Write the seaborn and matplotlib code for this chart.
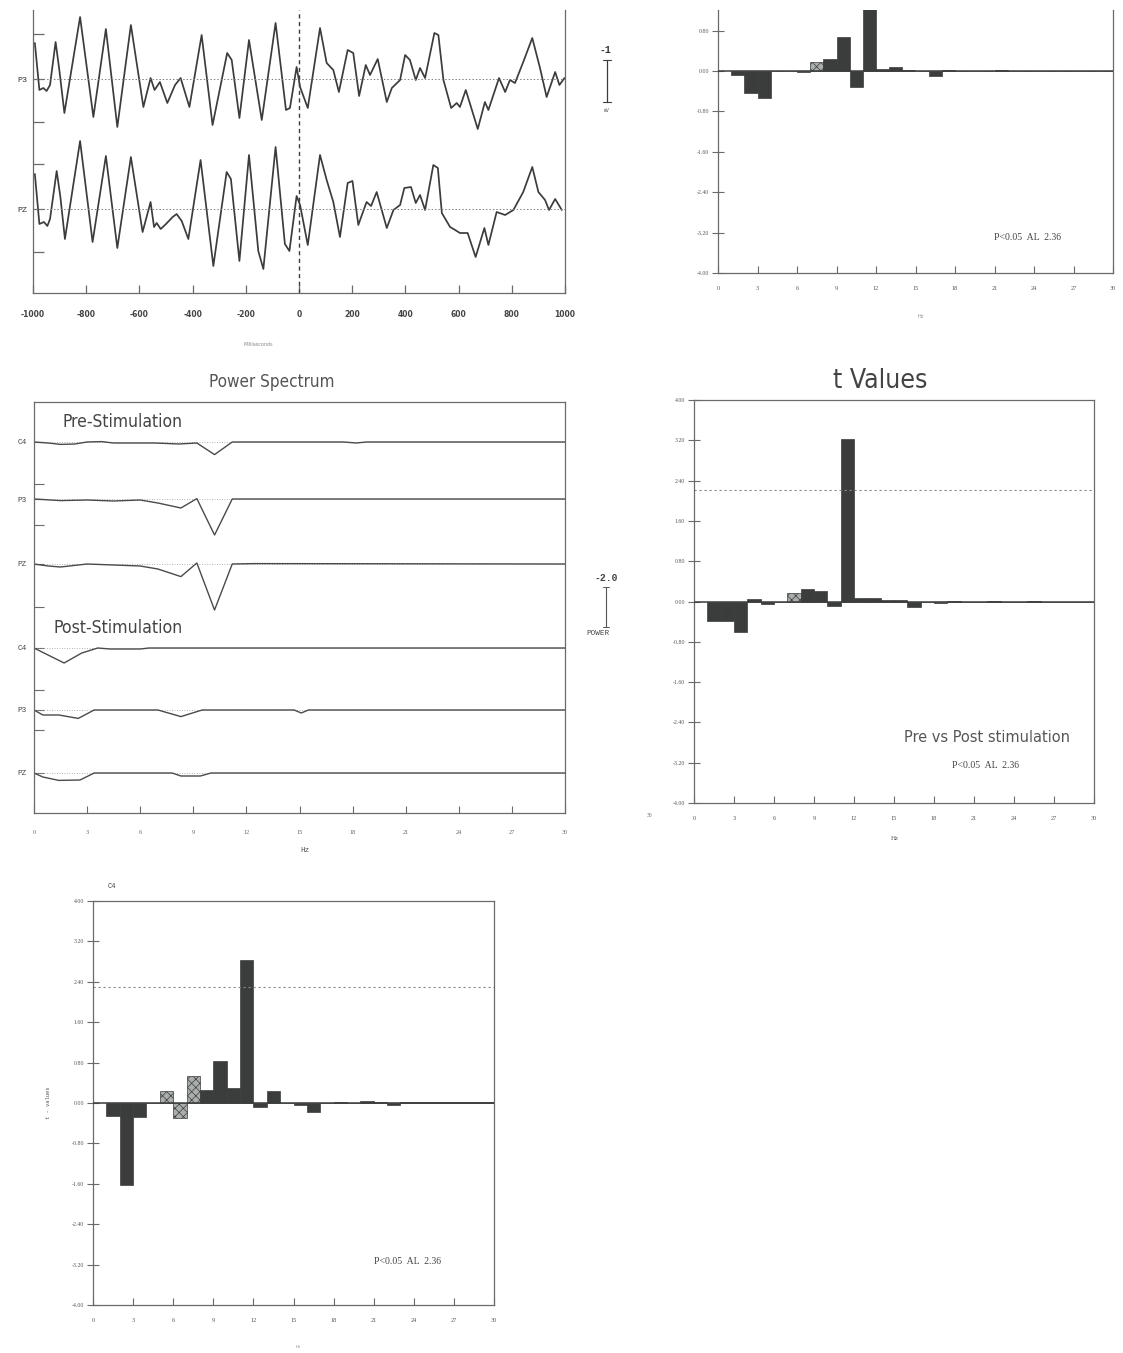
import numpy as np
import pandas as pd
import matplotlib
matplotlib.use('Agg')
import matplotlib.pyplot as plt
from matplotlib import font_manager
from matplotlib.font_manager import FontProperties
import seaborn as sns

# ---------------- data ----------------
# EEG epoch (top left), time in ms, deflection in screen units (scale bar = 43)
p3_ms = [-993, -976, -961, -949, -936, -915, -901, -882, -823, -773, -726, -683, -632, -585, -558,
         -543, -523, -495, -466, -445, -412, -366, -325, -270, -253, -224, -188, -140, -88, -49,
         -34, -9, 4, 33, 79, 104, 129, 150, 183, 204, 226, 251, 267, 296, 330,
         349, 380, 399, 417, 439, 455, 474, 509, 524, 543, 572, 593, 605, 627, 672,
         699, 712, 752, 775, 793, 812, 843, 877, 906, 931, 963, 979, 998]
p3_amp = [36, -11, -9, -12, -6, 37, 9, -34, 62, -38, 50, -48, 54, -28, 1,
          -11, -3, -24, -6, 1, -28, 44, -46, 26, 19, -39, 39, -41, 56, -31,
          -29, 12, -8, -29, 51, 16, 9, -13, 29, 26, -17, 14, 4, 20, -23,
          -9, -1, 24, 19, -1, 11, 1, 46, 44, -1, -29, -24, -28, -11, -50,
          -23, -31, 1, -13, -1, -4, 17, 41, 11, -18, 7, -6, 1]
pz_ms = [-993, -976, -959, -946, -936, -911, -897, -880, -823, -776, -726, -683, -632, -588, -558,
         -545, -535, -520, -500, -475, -460, -441, -416, -370, -322, -272, -256, -224, -188, -153,
         -134, -88, -53, -36, -9, 4, 33, 79, 104, 129, 154, 183, 201, 223, 254,
         271, 292, 330, 355, 380, 396, 421, 439, 455, 474, 505, 522, 537, 568, 587,
         605, 634, 664, 697, 712, 743, 775, 806, 843, 877, 900, 925, 940, 963, 988]
pz_amp = [35, -15, -13, -17, -10, 38, 12, -30, 68, -33, 53, -39, 52, -23, 7,
          -18, -14, -20, -15, -8, -5, -12, -30, 49, -57, 37, 30, -52, 54, -42,
          -60, 62, -35, -42, 13, 4, -36, 54, 29, 7, -28, 26, 28, -16, 7,
          3, 17, -19, -1, 4, 21, 22, 6, 14, -1, 44, 41, -4, -18, -21,
          -24, -24, -48, -19, -36, -3, -6, -1, 17, 42, 17, 9, -1, 10, -1]
eeg_ticks = [-1000, -800, -600, -400, -200, 0, 200, 400, 600, 800, 1000]

# power spectra (middle left), Hz vs power change
pre_c4_hz = [0, 0.8, 1.5, 2.3, 3.0, 3.8, 4.5, 5.3, 6.8, 8.2, 9.2, 10.2, 11.2, 17.5, 18.2, 18.8, 30]
pre_c4_pw = [0, -0.05, -0.12, -0.1, 0, 0.02, -0.05, -0.05, -0.05, -0.1, -0.05, -0.63, 0, 0, -0.05, 0, 0]
pre_p3_hz = [0, 1.5, 3.0, 4.5, 6.0, 7.0, 8.3, 9.2, 10.2, 11.2, 30]
pre_p3_pw = [0, -0.08, -0.05, -0.1, -0.05, -0.2, -0.45, 0.02, -1.8, 0, 0]
pre_pz_hz = [0, 0.8, 1.5, 3.0, 4.5, 6.0, 7.0, 8.3, 9.2, 10.2, 11.2, 12.5, 30]
pre_pz_pw = [0, -0.1, -0.15, 0, -0.05, -0.1, -0.25, -0.63, 0.05, -2.3, 0, 0.02, 0]
post_c4_hz = [0, 1.7, 2.7, 3.6, 4.3, 6.0, 6.5, 30]
post_c4_pw = [0, -0.75, -0.25, 0, -0.05, -0.05, 0, 0]
post_p3_hz = [0, 0.5, 1.4, 2.5, 3.4, 7.0, 8.3, 9.5, 14.7, 15.1, 15.5, 30]
post_p3_pw = [0, -0.25, -0.25, -0.42, 0, 0, -0.33, 0, 0, -0.15, 0, 0]
post_pz_hz = [0, 0.5, 1.4, 2.6, 3.4, 7.8, 8.3, 9.4, 10.0, 30]
post_pz_pw = [0, -0.2, -0.37, -0.35, 0, 0, -0.15, -0.15, 0, 0]
spec_labels = ['C4', 'P3', 'PZ', 'C4', 'P3', 'PZ']

# t values per 1 Hz bin (centres)
hz_bins = [1.5, 2.5, 3.5, 4.5, 5.5, 6.5, 7.5, 8.5, 9.5, 10.5, 11.5, 12.5, 13.5, 14.5, 15.5,
           16.5, 17.5, 18.5, 19.5, 20.5, 21.5, 22.5, 23.5, 24.5, 25.5, 26.5, 27.5, 28.5, 29.5]
t_top = [-0.08, -0.44, -0.53, 0.01, 0.0, -0.02, 0.17, 0.23, 0.67, -0.31, 3.0, 0.05, 0.08, 0.03, 0.01,
         -0.10, 0.03, 0.01, 0.0, 0.0, 0.02, 0.0, 0.0, 0.0, 0.01, 0.0, 0.0, 0.0, 0.0]
t_prepost = [-0.38, -0.38, -0.60, 0.04, -0.05, 0.0, 0.16, 0.24, 0.20, -0.09, 3.23, 0.07, 0.07, 0.02, 0.02,
             -0.10, 0.0, -0.02, 0.01, 0.0, -0.01, 0.01, 0.0, -0.01, 0.01, 0.0, 0.0, 0.0, 0.0]
t_c4 = [-0.25, -1.62, -0.28, 0.0, 0.23, -0.30, 0.53, 0.26, 0.84, 0.30, 2.83, -0.07, 0.23, 0.0, -0.03,
        -0.18, 0.0, 0.02, 0.0, 0.03, 0.01, -0.03, 0.01, 0.01, 0.01, 0.01, 0.01, 0.01, 0.01]
hatched_top = [7.5]
hatched_prepost = [7.5]
hatched_c4 = [5.5, 6.5, 7.5]
crit_prepost = 2.22
crit_c4 = 2.30
t_ticks = [4.0, 3.2, 2.4, 1.6, 0.8, 0.0, -0.8, -1.6, -2.4, -3.2, -4.0]
hz_ticks = [0, 3, 6, 9, 12, 15, 18, 21, 24, 27, 30]

# ---------------- style ----------------
sns.set_theme(style='white')
plt.rcParams['font.family'] = ['DejaVu Sans']
plt.rcParams['hatch.linewidth'] = 0.5
INK = '#3a3d3c'
SPINE = '#6a6a6a'
MONO = 'Liberation Mono'
SERIF = 'Liberation Serif'

# the headings in the scan are set in a condensed sans; use one if installed
cond_file = None
for f in font_manager.fontManager.ttflist:
    if f.stretch in ('condensed', 'semi-condensed') and f.style == 'normal' \
            and f.weight in (400, 'normal', 'regular') \
            and 'Mono' not in f.name and 'Serif' not in f.name:
        cond_file = f.fname
        break
if cond_file:
    HEAD = FontProperties(fname=cond_file)
else:
    HEAD = FontProperties(family=['Liberation Sans Narrow', 'Roboto', 'DejaVu Sans'])

W, H = 1123, 1353
fig = plt.figure(figsize=(W / 100, H / 100), dpi=100)
fig.patch.set_facecolor('white')
renderer = fig.canvas.get_renderer()


def box(x0, y0, x1, y1):
    return fig.add_axes([x0 / W, 1 - y1 / H, (x1 - x0) / W, (y1 - y0) / H])


def ftext(x, y, s, **kw):
    kw.setdefault('ha', 'center')
    kw.setdefault('va', 'center')
    return fig.text(x / W, 1 - y / H, s, **kw)


def heading(x, y, s, width_px, color):
    # size the heading so that it spans the same width as in the scan
    t = ftext(x, y, s, fontproperties=HEAD.copy(), color=color)
    t.set_fontsize(14)
    w = t.get_window_extent(renderer=renderer).width
    t.set_fontsize(14 * width_px / w)
    return t


def frame(ax, top=True):
    for side, sp in ax.spines.items():
        sp.set_color(SPINE)
        sp.set_linewidth(0.9)
    ax.spines['top'].set_visible(top)
    ax.set_facecolor('white')
    ax.set_xlabel('')
    ax.set_ylabel('')


def t_bars(ax, values, hatched, crit=None):
    df = pd.DataFrame({'hz': hz_bins, 't': values})
    sns.barplot(data=df, x='hz', y='t', native_scale=True, width=1.0, color=INK, saturation=1,
                edgecolor=INK, linewidth=0.5, errorbar=None, ax=ax)
    for p, hz in zip(ax.patches, hz_bins):
        if hz in hatched:
            p.set_facecolor('#a9aeab')
            p.set_hatch('xxxx')
    ax.axhline(0, color=INK, lw=1.1, zorder=3)
    if crit is not None:
        ax.axhline(crit, color='#8a8a8a', lw=0.8, ls=(0, (2, 2.5)))
    ax.set_xlim(0, 30)
    ax.set_xticks(hz_ticks)
    ax.set_xticklabels([str(v) for v in hz_ticks], fontsize=4.5, family=SERIF, color='#555')
    ax.set_yticks(t_ticks)
    ax.set_yticklabels(['%.2f' % v for v in t_ticks], fontsize=4.2, family=SERIF, color='#555')
    ax.tick_params(axis='x', direction='in', length=5, width=0.8, color=SPINE, pad=9, bottom=True)
    ax.tick_params(axis='y', direction='inout', length=9, width=0.8, color=SPINE, pad=2, left=True)
    frame(ax)


# ---------------- A: EEG epoch ----------------
ax = box(33, 10, 565, 293)
sns.lineplot(x=p3_ms, y=p3_amp, estimator=None, color=INK, lw=1.25, ax=ax)
sns.lineplot(x=pz_ms, y=np.array(pz_amp) - 130, estimator=None, color=INK, lw=1.25, ax=ax)
ax.axhline(0, color='#808080', lw=0.7, ls=(0, (1.5, 2)))
ax.axhline(-130, color='#808080', lw=0.7, ls=(0, (1.5, 2)))
ax.axvline(0, color=INK, lw=1.0, ls=(0, (3, 2.5)))
ax.set_xlim(-1000, 1000)
ax.set_ylim(-214, 69)
ax.set_xticks(eeg_ticks)
ax.set_xticklabels([str(v) for v in eeg_ticks], fontsize=5.5, fontweight='bold', color='#444')
ax.set_yticks([45, 0, -43, -85, -130, -173])
ax.set_yticklabels(['', 'P3', '', '', 'PZ', ''], fontsize=6, family=MONO, color='#333')
ax.tick_params(axis='x', direction='in', length=6, width=0.9, color=SPINE, pad=12, bottom=True)
ax.tick_params(axis='y', direction='in', length=8, width=0.9, color=SPINE, pad=4, left=True)
frame(ax, top=False)
ftext(258, 345, 'Milliseconds', fontsize=3.5, color='#888')
# amplitude scale bar
fig.add_artist(plt.Line2D([607 / W, 607 / W], [1 - 60 / H, 1 - 102 / H], color=INK, lw=0.9))
for yy in (60, 102):
    fig.add_artist(plt.Line2D([603 / W, 611 / W], [1 - yy / H, 1 - yy / H], color=INK, lw=0.8))
ftext(605, 50, '-1', fontsize=7, family=MONO, fontweight='bold', color='#333')
ftext(607, 110, 'mV', fontsize=3.5, family=MONO, color='#555')

# ---------------- B: t values (cropped) ----------------
ax = box(718, 10, 1113, 273)
t_bars(ax, t_top, hatched_top)
ax.set_ylim(-4.0, 1.21)
ax.spines['top'].set_visible(False)
ftext(1028, 238, 'P<0.05  AL  2.36', fontsize=7, family=SERIF, color='#444')
ftext(921, 317, 'Hz', fontsize=3.5, color='#888')

# ---------------- C: power spectrum ----------------
ax = box(34, 402, 565, 813)
spec_base = [18.55, 15.7, 12.45, 8.25, 5.15, 2.0]
spectra = [(pre_c4_hz, pre_c4_pw), (pre_p3_hz, pre_p3_pw), (pre_pz_hz, pre_pz_pw),
           (post_c4_hz, post_c4_pw), (post_p3_hz, post_p3_pw), (post_pz_hz, post_pz_pw)]
for (hz, pw), base in zip(spectra, spec_base):
    ax.axhline(base, color='#9a9a9a', lw=0.6, ls=(0, (1, 2)))
    sns.lineplot(x=hz, y=np.array(pw) + base, estimator=None, color='#4a4a4a', lw=1.0, ax=ax)
ax.set_xlim(0, 30)
ax.set_ylim(0, 20.55)
ax.set_xticks(hz_ticks)
ax.set_xticklabels([str(v) for v in hz_ticks], fontsize=4.5, family=SERIF, color='#666')
ytk = [18.55, 16.45, 15.7, 14.4, 12.45, 10.3, 8.25, 6.15, 5.15, 4.15, 2.0]
ax.set_yticks(ytk)
ax.set_yticklabels(['C4', '', 'P3', '', 'PZ', '', 'C4', '', 'P3', '', 'PZ'],
                   fontsize=5.5, family=MONO, color='#444')
ax.tick_params(axis='x', direction='in', length=5, width=0.8, color=SPINE, pad=12, bottom=True)
ax.tick_params(axis='y', direction='in', length=7, width=0.8, color=SPINE, pad=5, left=True)
frame(ax)
heading(272, 382, 'Power Spectrum', 126, '#555')
heading(123, 422, 'Pre-Stimulation', 121, '#444')
heading(118, 628, 'Post-Stimulation', 130, '#444')
ftext(305, 851, 'Hz', fontsize=5.5, family=MONO, color='#555')
# power scale bar
fig.add_artist(plt.Line2D([606 / W, 606 / W], [1 - 587 / H, 1 - 627 / H], color='#555', lw=0.8))
for yy in (587, 627):
    fig.add_artist(plt.Line2D([603 / W, 609 / W], [1 - yy / H, 1 - yy / H], color='#555', lw=0.7))
ftext(606, 578, '-2.0', fontsize=7, family=MONO, fontweight='bold', color='#444')
ftext(598, 634, 'POWER', fontsize=5.5, family=MONO, color='#444')

# ---------------- D: t values pre vs post ----------------
ax = box(694, 400, 1094, 803)
t_bars(ax, t_prepost, hatched_prepost, crit_prepost)
ax.set_ylim(-4, 4)
heading(880, 381, 't Values', 95, '#444')
heading(987, 738, 'Pre vs Post stimulation', 167, '#555')
ftext(985, 765, 'P<0.05  AL  2.36', fontsize=7, family=SERIF, color='#444')
ftext(895, 838, 'Hz', fontsize=5, family=SERIF, color='#555')
ftext(650, 815, '30', fontsize=4, family=SERIF, color='#666')

# ---------------- E: t values C4 ----------------
ax = box(93, 901, 494, 1305)
t_bars(ax, t_c4, hatched_c4, crit_c4)
ax.set_ylim(-4, 4)
ftext(112, 887, 'C4', fontsize=5, family=MONO, color='#444')
ftext(48, 1103, 't - values', fontsize=4, family=MONO, color='#555', rotation=90)
ftext(407, 1262, 'P<0.05  AL  2.36', fontsize=7, family=SERIF, color='#444')
ftext(298, 1347, 'Hz', fontsize=3, color='#888')

fig.savefig('out.png', dpi=100, facecolor='white')
